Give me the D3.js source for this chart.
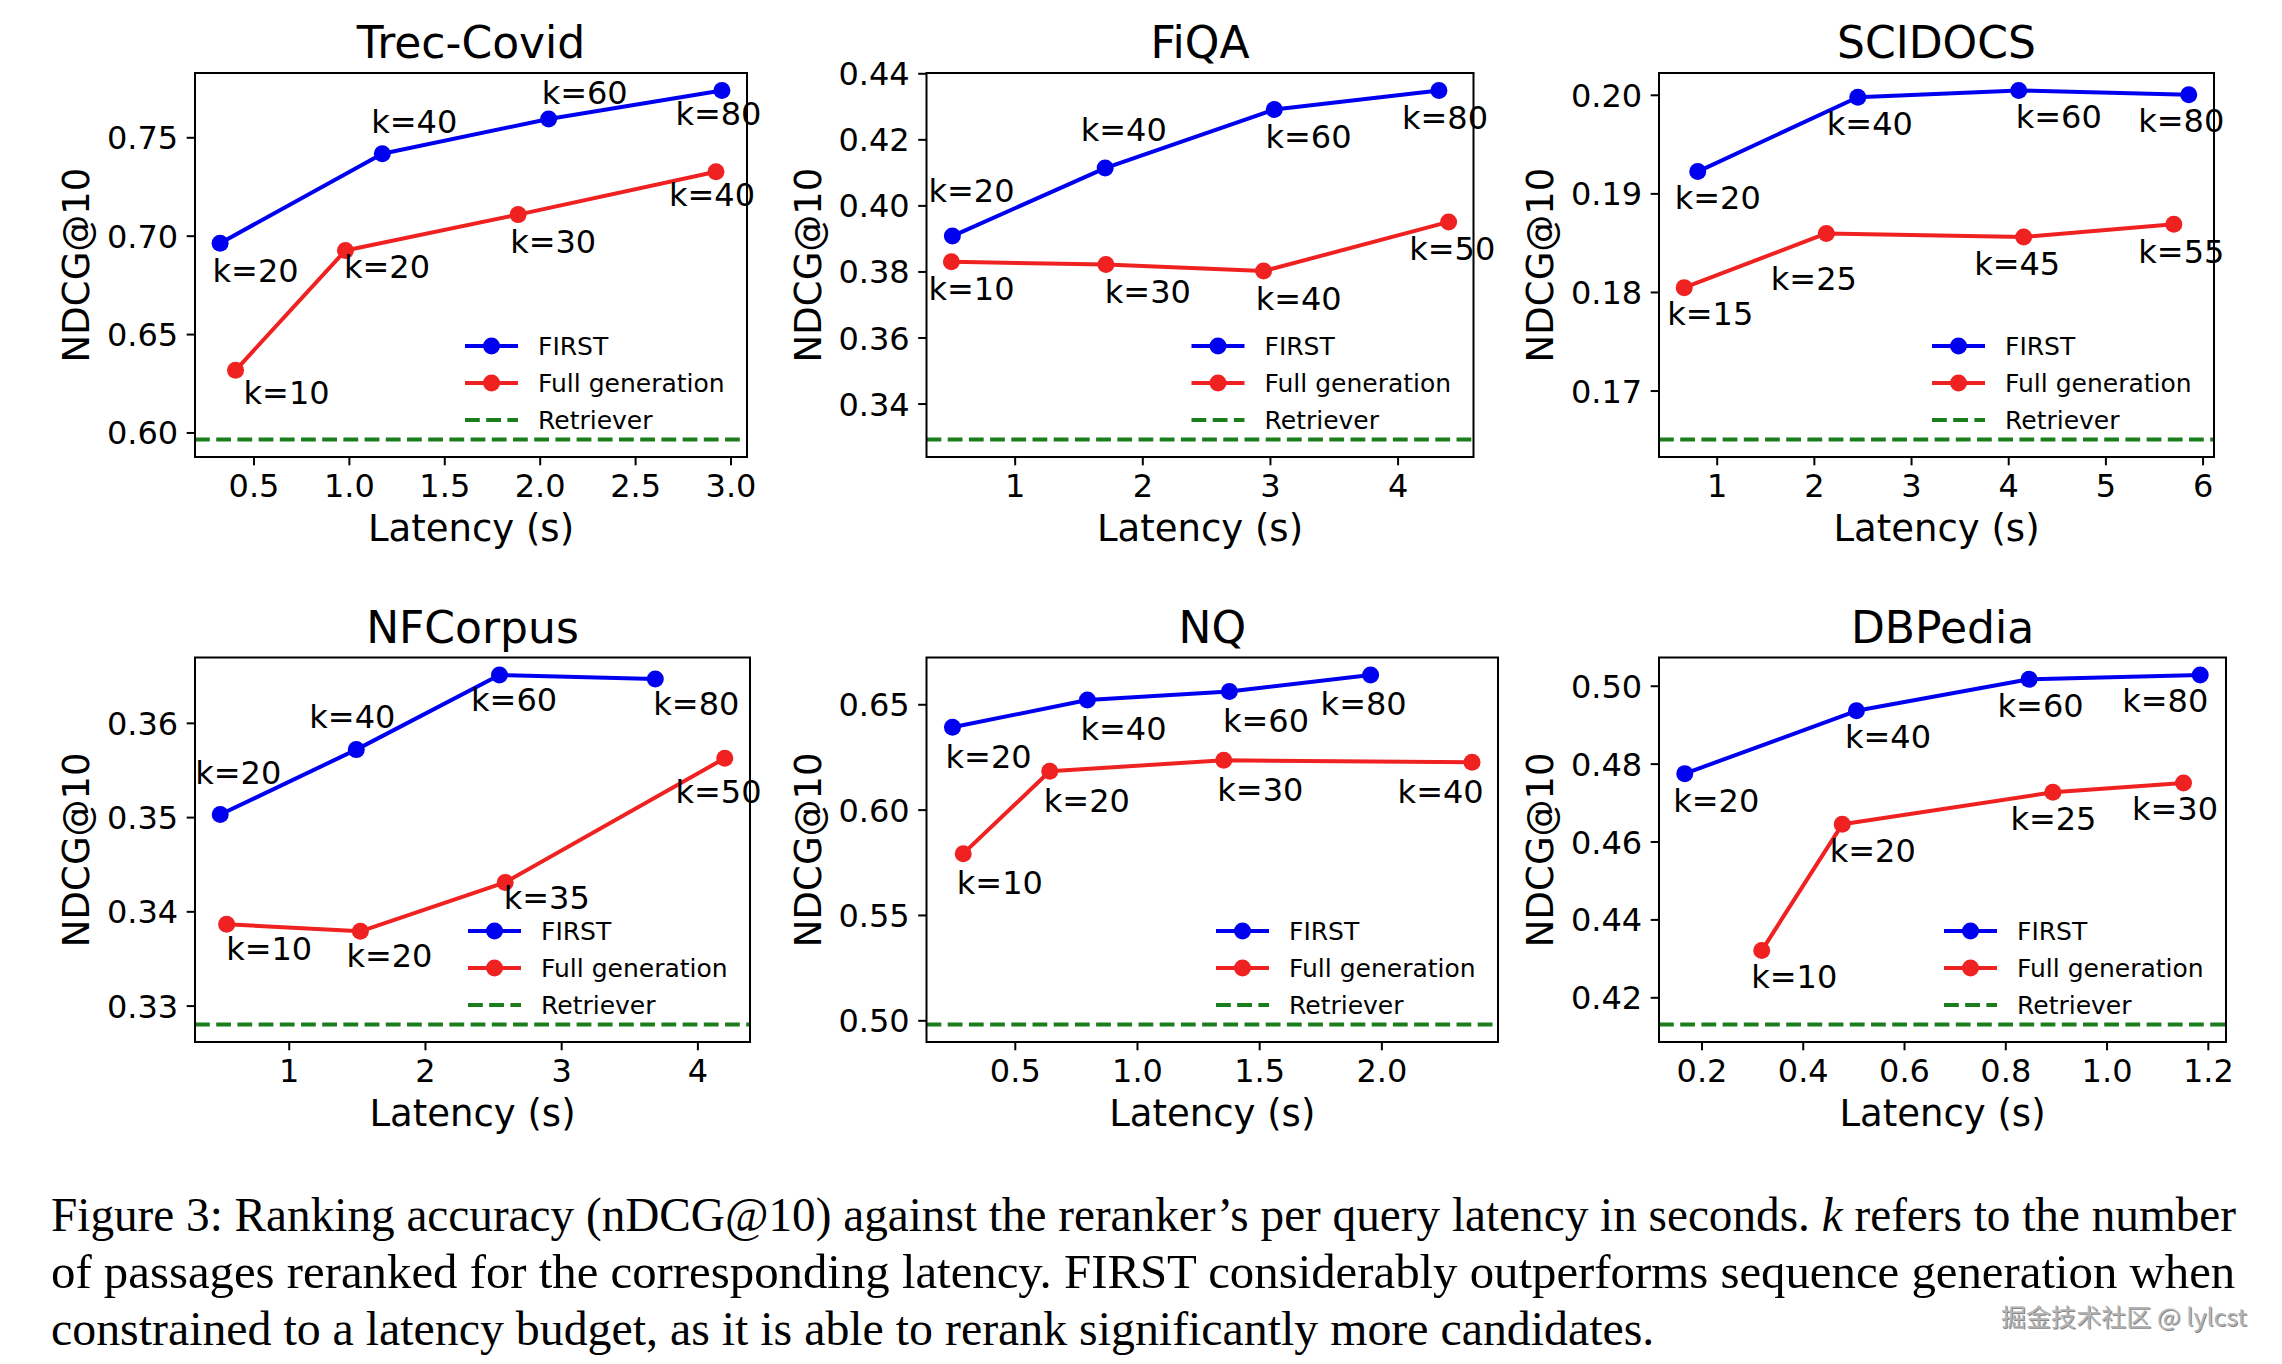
<!DOCTYPE html>
<html>
<head>
<meta charset="utf-8">
<script src="https://cdn.jsdelivr.net/npm/d3@7"></script>
<style>
  body { margin: 0; background: #fff; }
</style>
</head>
<body>
<div id="chart"></div>
<script>
// ---- data ----
const trecFirstLatency = [0.325, 1.175, 2.047, 2.955];
const trecFirstNdcg = [0.6962, 0.7416, 0.7593, 0.7738];
const trecFirstK = [20, 40, 60, 80];
const trecFullLatency = [0.406, 0.982, 1.887, 2.924];
const trecFullNdcg = [0.6316, 0.6925, 0.7107, 0.7325];
const trecFullK = [10, 20, 30, 40];
const trecRetriever = 0.5964;
const trecXTicks = [0.5, 1.0, 1.5, 2.0, 2.5, 3.0];
const trecXTickLabels = ["0.5", "1.0", "1.5", "2.0", "2.5", "3.0"];
const trecYTicks = [0.60, 0.65, 0.70, 0.75];
const trecYTickLabels = ["0.60", "0.65", "0.70", "0.75"];

const fiqaFirstLatency = [0.512, 1.709, 3.034, 4.324];
const fiqaFirstNdcg = [0.3907, 0.4113, 0.4290, 0.4348];
const fiqaFirstK = [20, 40, 60, 80];
const fiqaFullLatency = [0.504, 1.715, 2.950, 4.400];
const fiqaFullNdcg = [0.3829, 0.3821, 0.3801, 0.3950];
const fiqaFullK = [10, 30, 40, 50];
const fiqaRetriever = 0.3291;
const fiqaXTicks = [1, 2, 3, 4];
const fiqaXTickLabels = ["1", "2", "3", "4"];
const fiqaYTicks = [0.34, 0.36, 0.38, 0.40, 0.42, 0.44];
const fiqaYTickLabels = ["0.34", "0.36", "0.38", "0.40", "0.42", "0.44"];

const scidocsFirstLatency = [0.805, 2.452, 4.108, 5.858];
const scidocsFirstNdcg = [0.19221, 0.19975, 0.20044, 0.2000];
const scidocsFirstK = [20, 40, 60, 80];
const scidocsFullLatency = [0.666, 2.128, 4.159, 5.704];
const scidocsFullNdcg = [0.18044, 0.18594, 0.18558, 0.18688];
const scidocsFullK = [15, 25, 45, 55];
const scidocsRetriever = 0.16503;
const scidocsXTicks = [1, 2, 3, 4, 5, 6];
const scidocsXTickLabels = ["1", "2", "3", "4", "5", "6"];
const scidocsYTicks = [0.17, 0.18, 0.19, 0.20];
const scidocsYTickLabels = ["0.17", "0.18", "0.19", "0.20"];

const nfFirstLatency = [0.497, 1.496, 2.547, 3.691];
const nfFirstNdcg = [0.35027, 0.35716, 0.36508, 0.36466];
const nfFirstK = [20, 40, 60, 80];
const nfFullLatency = [0.544, 1.526, 2.589, 4.201];
const nfFullNdcg = [0.33863, 0.33788, 0.34307, 0.35625];
const nfFullK = [10, 20, 35, 50];
const nfRetriever = 0.32799;
const nfXTicks = [1, 2, 3, 4];
const nfXTickLabels = ["1", "2", "3", "4"];
const nfYTicks = [0.33, 0.34, 0.35, 0.36];
const nfYTickLabels = ["0.33", "0.34", "0.35", "0.36"];

const nqFirstLatency = [0.245, 0.797, 1.378, 1.956];
const nqFirstNdcg = [0.6391, 0.6520, 0.6561, 0.6639];
const nqFirstK = [20, 40, 60, 80];
const nqFullLatency = [0.289, 0.643, 1.355, 2.371];
const nqFullNdcg = [0.5791, 0.6182, 0.6234, 0.6225];
const nqFullK = [10, 20, 30, 40];
const nqRetriever = 0.4980;
const nqXTicks = [0.5, 1.0, 1.5, 2.0];
const nqXTickLabels = ["0.5", "1.0", "1.5", "2.0"];
const nqYTicks = [0.50, 0.55, 0.60, 0.65];
const nqYTickLabels = ["0.50", "0.55", "0.60", "0.65"];

const dbFirstLatency = [0.167, 0.506, 0.847, 1.185];
const dbFirstNdcg = [0.47743, 0.49356, 0.50166, 0.50276];
const dbFirstK = [20, 40, 60, 80];
const dbFullLatency = [0.319, 0.478, 0.894, 1.152];
const dbFullNdcg = [0.4320, 0.46441, 0.47264, 0.47503];
const dbFullK = [10, 20, 25, 30];
const dbRetriever = 0.41301;
const dbXTicks = [0.2, 0.4, 0.6, 0.8, 1.0, 1.2];
const dbXTickLabels = ["0.2", "0.4", "0.6", "0.8", "1.0", "1.2"];
const dbYTicks = [0.42, 0.44, 0.46, 0.48, 0.50];
const dbYTickLabels = ["0.42", "0.44", "0.46", "0.48", "0.50"];

const titles = ["Trec-Covid", "FiQA", "SCIDOCS", "NFCorpus", "NQ", "DBPedia"];
const seriesNames = ["FIRST", "Full generation", "Retriever"];

// ---- layout (pixels) ----
const W = 2282, H = 1364;
const boxes = [
  { l: 195, r: 747, t: 73, b: 457 },
  { l: 926.5, r: 1473.5, t: 73, b: 457 },
  { l: 1659, r: 2214, t: 73, b: 457 },
  { l: 195, r: 750, t: 657.5, b: 1042 },
  { l: 926.5, r: 1498, t: 657.5, b: 1042 },
  { l: 1659, r: 2226, t: 657.5, b: 1042 }
];

// where each "k=" annotation sits relative to its marker (left edge, baseline)
const labelOffsets = [
  { first: [[-4.5, 39], [-8, -20.7], [-4, -15.4], [-43.5, 34.6]],
    full: [[11, 34], [1.5, 27.5], [-5, 38.6], [-44, 34]] },
  { first: [[-20.9, -33.9], [-21.4, -27.5], [-5.8, 37.9], [-34, 38.2]],
    full: [[-19.9, 37.9], [1.9, 38.6], [-4.9, 38.6], [-36.4, 38.2]] },
  { first: [[-20, 37.5], [-28, 37.9], [0, 37.5], [-47.5, 37.5]],
    full: [[-14, 37.5], [-52.5, 57], [-46.5, 38.2], [-32.5, 38.6]] },
  { first: [[-22, -30.7], [-44, -21.4], [-25.4, 36.4], [1, 36.1]],
    full: [[2.5, 35.7], [-11, 35.7], [1.5, 27], [-46.3, 45]] },
  { first: [[-3.9, 40.7], [-3.9, 40.4], [-3.4, 40.7], [-47, 40.4]],
    full: [[-3.4, 40.7], [-2.9, 40.7], [-3.4, 40.4], [-71.4, 40.7]] },
  { first: [[-8.5, 37.9], [-8.5, 37.5], [-28.5, 37.5], [-75, 37.5]],
    full: [[-7.5, 37.5], [-9.5, 37.5], [-39.5, 37.5], [-48.5, 37.5]] }
];

const BLUE = "#0000f0", RED = "#ef2121", GREEN = "#1b7d1b";
const FONT = "'DejaVu Sans', sans-serif";

const panels = [
  { fx: trecFirstLatency, fy: trecFirstNdcg, fk: trecFirstK, gx: trecFullLatency, gy: trecFullNdcg, gk: trecFullK,
    ret: trecRetriever, xt: trecXTicks, xl: trecXTickLabels, yt: trecYTicks, yl: trecYTickLabels },
  { fx: fiqaFirstLatency, fy: fiqaFirstNdcg, fk: fiqaFirstK, gx: fiqaFullLatency, gy: fiqaFullNdcg, gk: fiqaFullK,
    ret: fiqaRetriever, xt: fiqaXTicks, xl: fiqaXTickLabels, yt: fiqaYTicks, yl: fiqaYTickLabels },
  { fx: scidocsFirstLatency, fy: scidocsFirstNdcg, fk: scidocsFirstK, gx: scidocsFullLatency, gy: scidocsFullNdcg, gk: scidocsFullK,
    ret: scidocsRetriever, xt: scidocsXTicks, xl: scidocsXTickLabels, yt: scidocsYTicks, yl: scidocsYTickLabels },
  { fx: nfFirstLatency, fy: nfFirstNdcg, fk: nfFirstK, gx: nfFullLatency, gy: nfFullNdcg, gk: nfFullK,
    ret: nfRetriever, xt: nfXTicks, xl: nfXTickLabels, yt: nfYTicks, yl: nfYTickLabels },
  { fx: nqFirstLatency, fy: nqFirstNdcg, fk: nqFirstK, gx: nqFullLatency, gy: nqFullNdcg, gk: nqFullK,
    ret: nqRetriever, xt: nqXTicks, xl: nqXTickLabels, yt: nqYTicks, yl: nqYTickLabels },
  { fx: dbFirstLatency, fy: dbFirstNdcg, fk: dbFirstK, gx: dbFullLatency, gy: dbFullNdcg, gk: dbFullK,
    ret: dbRetriever, xt: dbXTicks, xl: dbXTickLabels, yt: dbYTicks, yl: dbYTickLabels }
];

const svg = d3.select("#chart").append("svg")
  .attr("width", W)
  .attr("height", H)
  .style("display", "block")
  .style("font-family", FONT);

svg.append("rect").attr("width", W).attr("height", H).attr("fill", "#fff");

// matplotlib-style autoscale: data extent plus 5% margin each side
function padded(vals) {
  const [lo, hi] = d3.extent(vals);
  const m = (hi - lo) * 0.05;
  return [lo - m, hi + m];
}

panels.forEach((p, i) => drawPanel(p, boxes[i], titles[i], labelOffsets[i]));

function drawPanel(p, box, title, offs) {
  const w = box.r - box.l, h = box.b - box.t;
  const g = svg.append("g").attr("transform", `translate(${box.l},${box.t})`);

  const x = d3.scaleLinear().domain(padded(p.fx.concat(p.gx))).range([0, w]);
  const y = d3.scaleLinear().domain(padded(p.fy.concat(p.gy, [p.ret]))).range([h, 0]);

  // axes
  const xAxis = g.append("g")
    .attr("transform", `translate(0,${h})`)
    .call(d3.axisBottom(x).tickValues(p.xt).tickFormat((d, j) => p.xl[j])
      .tickSize(8.3).tickSizeOuter(0).tickPadding(9));
  const yAxis = g.append("g")
    .call(d3.axisLeft(y).tickValues(p.yt).tickFormat((d, j) => p.yl[j])
      .tickSize(8.3).tickSizeOuter(0).tickPadding(8.5));
  [xAxis, yAxis].forEach(a => {
    a.select(".domain").remove();
    a.selectAll("line").attr("stroke", "#000").attr("stroke-width", 2);
    a.selectAll("text").attr("font-size", 32).attr("font-family", FONT).attr("fill", "#000");
  });
  yAxis.selectAll("text").attr("dy", "0.36em");

  // retriever baseline
  g.append("line")
    .attr("x1", x.range()[0]).attr("x2", x.range()[1])
    .attr("y1", y(p.ret)).attr("y2", y(p.ret))
    .attr("stroke", GREEN)
    .attr("stroke-width", 4)
    .attr("stroke-dasharray", "14.8,6.4");

  const series = [
    { xs: p.fx, ys: p.fy, ks: p.fk, color: BLUE, off: offs.first },
    { xs: p.gx, ys: p.gy, ks: p.gk, color: RED, off: offs.full }
  ];

  series.forEach(s => {
    const pts = s.xs.map((v, j) => [v, s.ys[j]]);
    g.append("path")
      .datum(pts)
      .attr("fill", "none")
      .attr("stroke", s.color)
      .attr("stroke-width", 4)
      .attr("stroke-linejoin", "round")
      .attr("d", d3.line().x(d => x(d[0])).y(d => y(d[1])));
    g.append("g").selectAll("circle")
      .data(pts)
      .enter()
      .append("circle")
        .attr("cx", d => x(d[0]))
        .attr("cy", d => y(d[1]))
        .attr("r", 8.5)
        .attr("fill", s.color);
  });

  // "k=" annotations (3px compensates the left bearing of "k")
  series.forEach(s => {
    g.append("g").selectAll("text")
      .data(s.ks)
      .enter()
      .append("text")
        .attr("x", (k, j) => x(s.xs[j]) + s.off[j][0] - 3)
        .attr("y", (k, j) => y(s.ys[j]) + s.off[j][1])
        .attr("font-size", 32)
        .attr("fill", "#000")
        .text(k => `k=${k}`);
  });

  // legend, lower right
  const legendRows = [
    { name: seriesNames[0], color: BLUE, marker: true },
    { name: seriesNames[1], color: RED, marker: true },
    { name: seriesNames[2], color: GREEN, marker: false }
  ];
  const lg = g.append("g").attr("transform", `translate(${w - 282},${h - 111})`);
  legendRows.forEach((r, j) => {
    const row = lg.append("g").attr("transform", `translate(0,${j * 37})`);
    row.append("line")
      .attr("x1", 0).attr("x2", 53)
      .attr("stroke", r.color)
      .attr("stroke-width", 4)
      .attr("stroke-dasharray", r.marker ? null : "14.8,6.4");
    if (r.marker) {
      row.append("circle").attr("cx", 26.5).attr("r", 8.5).attr("fill", r.color);
    }
    row.append("text")
      .attr("x", 73)
      .attr("y", 9)
      .attr("font-size", 25)
      .attr("fill", "#000")
      .text(r.name);
  });

  // frame
  g.append("rect")
    .attr("width", w).attr("height", h)
    .attr("fill", "none")
    .attr("stroke", "#000")
    .attr("stroke-width", 2);

  // titles
  g.append("text")
    .attr("x", w / 2).attr("y", -15)
    .attr("text-anchor", "middle")
    .attr("font-size", 44)
    .text(title);
  g.append("text")
    .attr("x", w / 2).attr("y", h + 84)
    .attr("text-anchor", "middle")
    .attr("font-size", 37)
    .text("Latency (s)");
  g.append("text")
    .attr("transform", `translate(-106,${h / 2}) rotate(-90)`)
    .attr("text-anchor", "middle")
    .attr("font-size", 37)
    .text("NDCG@10");
}

// ---- caption ----
const captionLines = [
  ["Figure 3: Ranking accuracy (nDCG@10) against the reranker\u2019s per query latency in seconds. ", "k", " refers to the number"],
  ["of passages reranked for the corresponding latency. FIRST considerably outperforms sequence generation when"],
  ["constrained to a latency budget, as it is able to rerank significantly more candidates."]
];
const capLeft = 51;
const capWidths = [2185, 2185, 1604];
const capBaselines = [1231, 1288, 1345];

const cap = svg.append("g")
  .attr("font-family", "'Liberation Serif', 'Times New Roman', serif")
  .attr("fill", "#000");

// the figure's serif is taller and narrower than Liberation Serif:
// set the size from the glyph height, then scale each line to its measured width
captionLines.forEach((parts, i) => {
  const t = cap.append("text")
    .attr("x", 0)
    .attr("y", 0)
    .attr("font-size", 48);
  parts.forEach((s, j) => {
    t.append("tspan").attr("font-style", j === 1 ? "italic" : null).text(s);
  });
  const len = t.node().getComputedTextLength();
  t.attr("transform", `translate(${capLeft},${capBaselines[i]}) scale(${capWidths[i] / len},1)`);
});

// watermark
const wm = "\u6398\u91d1\u6280\u672f\u793e\u533a @ lylcst";
svg.append("text")
  .attr("x", 2002).attr("y", 1327)
  .attr("font-family", "'Noto Sans CJK SC', 'Noto Sans', sans-serif")
  .attr("font-size", 24)
  .attr("textLength", 246)
  .attr("lengthAdjust", "spacingAndGlyphs")
  .attr("fill", "#555")
  .attr("opacity", 0.7)
  .text(wm);
svg.append("text")
  .attr("x", 2001).attr("y", 1326)
  .attr("font-family", "'Noto Sans CJK SC', 'Noto Sans', sans-serif")
  .attr("font-size", 24)
  .attr("textLength", 246)
  .attr("lengthAdjust", "spacingAndGlyphs")
  .attr("fill", "#b4b4b4")
  .text(wm);
</script>
</body>
</html>
